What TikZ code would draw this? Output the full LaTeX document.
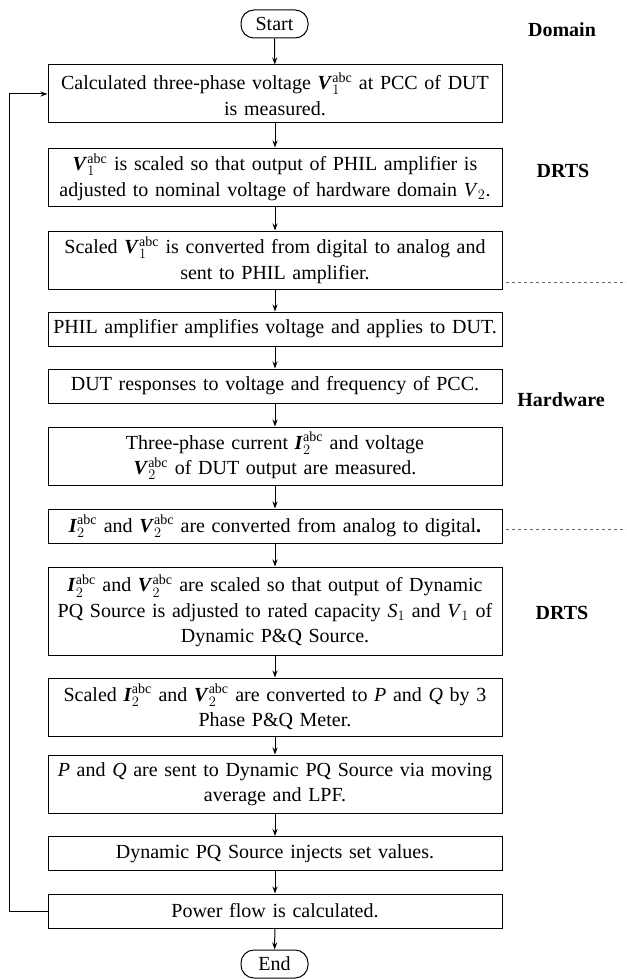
\documentclass[tikz,border=0pt]{standalone}
\usepackage{fontspec}
\setmainfont{Liberation Serif}
\usetikzlibrary{arrows.meta}
\newcommand{\Vabc}[1]{$\textbf{\textit{V}}_{#1}^{\mathrm{abc}}$}
\newcommand{\Iabc}[1]{$\textbf{\textit{I}}_{#1}^{\mathrm{abc}}$}
\tikzset{
  proc/.style={draw, line width=1pt, text width=448pt, align=center,
    inner xsep=3pt, inner ysep=2pt, minimum height=34pt,
    font=\fontsize{20}{25.5}\selectfont},
  proctwo/.style={proc, minimum height=58pt},
  procthree/.style={proc, minimum height=88pt},
  term/.style={draw, line width=1pt, rounded corners=13pt, minimum width=67pt,
    minimum height=28pt, inner sep=2pt, font=\fontsize{20}{22}\selectfont},
  domlabel/.style={font=\fontsize{20}{22}\selectfont\bfseries},
  flowline/.style={line width=1pt},
}
\begin{document}
\begin{tikzpicture}[x=1pt, y=-1pt, >={Stealth[length=7pt, width=5pt]}]
  \useasboundingbox (0,0) rectangle (626,979);

  \node[term] (start) at (274.5,24) {Start};
  \node[proctwo] (calc) at (275,94) {Calculated three-phase voltage \Vabc{1} at PCC of DUT\\ is measured.};
  \node[proctwo] (scale) at (275,177) {\Vabc{1} is scaled so that output of PHIL amplifier is\\ adjusted to nominal voltage of hardware domain \textit{V}$_2$.};
  \node[proctwo] (dac) at (275,260) {Scaled \Vabc{1} is converted from digital to analog and\\ sent to PHIL amplifier.};
  \node[proc] (amp) at (275,329) {PHIL amplifier amplifies voltage and applies to DUT.};
  \node[proc] (dut) at (275,386) {DUT responses to voltage and frequency of PCC.};
  \node[proctwo] (meas) at (275,456) {Three-phase current \Iabc{2} and voltage\\ \Vabc{2} of DUT output are measured.};
  \node[proc] (adc) at (275,526) {\Iabc{2} and \Vabc{2} are converted from analog to digital\textbf{.}};
  \node[procthree] (scalepq) at (275,611) {\Iabc{2} and \Vabc{2} are scaled so that output of Dynamic\\ PQ Source is adjusted to rated capacity \textit{S}$_1$ and \textit{V}$_1$ of\\ Dynamic P\&Q Source.};
  \node[proctwo] (meter) at (275,707) {Scaled \Iabc{2} and \Vabc{2} are converted to \textit{P} and \textit{Q} by 3\\ Phase P\&Q Meter.};
  \node[proctwo] (send) at (275,784) {\textit{P} and \textit{Q} are sent to Dynamic PQ Source via moving\\ average and LPF.};
  \node[proc] (inject) at (275,853.5) {Dynamic PQ Source injects set values.};
  \node[proc] (flow) at (275,911) {Power flow is calculated.};
  \node[term] (stop) at (274.5,964) {End};

  % domain labels
  \node[domlabel] (domain) at (562,30) {Domain};
  \node[domlabel] (drtsa) at (563,171) {DRTS};
  \node[domlabel] (hw) at (561,400) {Hardware};
  \node[domlabel] (drtsb) at (562,613) {DRTS};

  \draw[dashed, gray!80!black] (506,282) -- (626,282);
  \draw[dashed, gray!80!black] (506,529) -- (626,529);

  \foreach \a/\b in {start/calc, calc/scale, scale/dac, dac/amp, amp/dut,
    dut/meas, meas/adc, adc/scalepq, scalepq/meter, meter/send, send/inject,
    inject/flow, flow/stop}
    \draw[flowline, ->] (\a) -- (\b);

  % loop back
  \draw[flowline, ->] (flow.west) -- ++(-38,0) |- (calc.west);
\end{tikzpicture}
\end{document}
